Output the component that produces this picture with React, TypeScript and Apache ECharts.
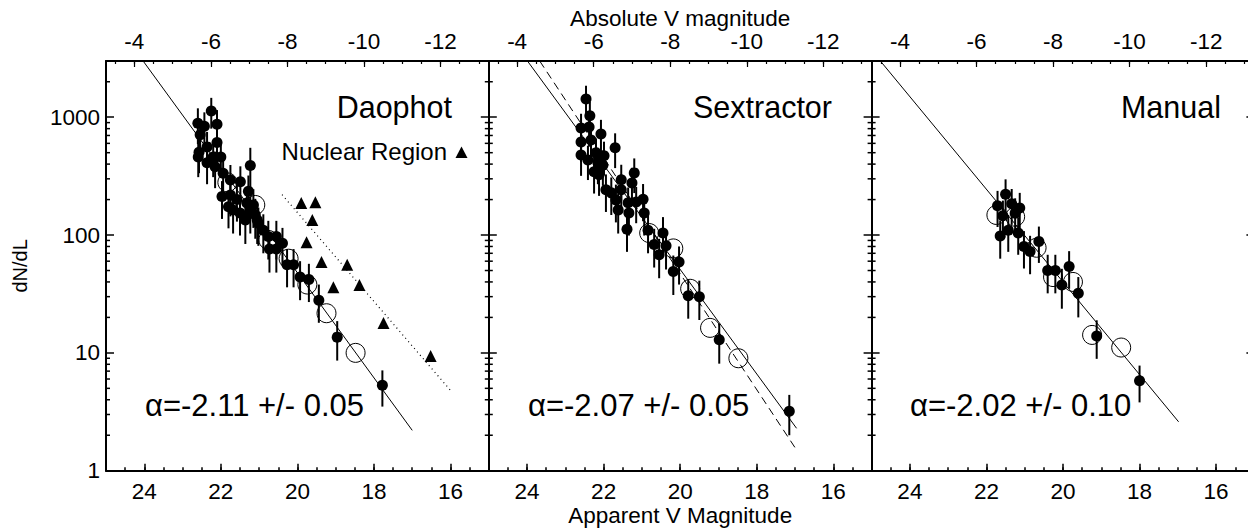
import React, { useEffect, useRef } from 'react';
import * as echarts from 'echarts';

// ---------- axes ----------
const DIST_MODULUS = 28.26;
const APP_MIN = 15;
const APP_MAX = 25;
const COUNT_MIN = 1;
const COUNT_MAX = 3000;

const apparentTicks = [16, 18, 20, 22, 24];
const apparentMinorTicks = [15.5, 16, 16.5, 17, 17.5, 18, 18.5, 19, 19.5, 20, 20.5, 21, 21.5, 22, 22.5, 23, 23.5, 24, 24.5];
const absoluteTicks = [-4, -6, -8, -10, -12];
const absoluteMinorTicks = [-3.5, -4, -4.5, -5, -5.5, -6, -6.5, -7, -7.5, -8, -8.5, -9, -9.5, -10, -10.5, -11, -11.5, -12, -12.5, -13];
const countMinorTicks = [2, 3, 4, 5, 6, 7, 8, 9, 20, 30, 40, 50, 60, 70, 80, 90, 200, 300, 400, 500, 600, 700, 800, 900, 2000, 3000];

const panelTitles = ['Daophot', 'Sextractor', 'Manual'];
const slopeLabels = ['α=-2.11 +/- 0.05', 'α=-2.07 +/- 0.05', 'α=-2.02 +/- 0.10'];

// ---------- data: [apparent mag, dN/dL, sigma] ----------
const daophotFilled = [
  [22.25, 1130, 330], [22.10, 870, 280], [22.60, 890, 300], [22.43, 840, 260], [22.10, 610, 200],
  [22.54, 710, 220], [22.36, 560, 190], [22.59, 460, 150], [22.57, 505, 170], [22.20, 460, 150],
  [22.00, 460, 150], [22.36, 410, 140], [22.15, 380, 130], [21.23, 390, 160], [21.94, 335, 110],
  [21.75, 293, 100], [21.49, 283, 100], [21.28, 235, 85], [21.97, 212, 75], [21.75, 219, 75],
  [21.58, 200, 70], [21.32, 187, 65], [21.15, 180, 65], [21.80, 174, 60], [21.68, 163, 60],
  [21.50, 154, 55], [21.23, 158, 55], [21.10, 148, 55], [21.36, 134, 50], [21.05, 134, 50],
  [21.02, 126, 45], [20.89, 110, 40], [20.76, 97, 35], [20.55, 97, 35], [20.39, 85, 30],
  [20.73, 76, 28], [20.55, 76, 28], [20.27, 56, 20], [20.10, 56, 20], [19.93, 44, 16],
  [19.70, 42, 15], [19.44, 28, 10], [18.96, 13.6, 5], [17.78, 5.3, 1.8],
];
const daophotOpen = [[21.83, 280], [21.10, 180], [20.76, 91], [20.23, 63], [19.74, 38], [19.24, 21.7], [18.48, 10]];
const nuclearTriangles = [
  [19.90, 187], [19.53, 190], [19.61, 134], [19.76, 87], [19.37, 59],
  [18.70, 56], [19.06, 36], [18.38, 37.6], [17.75, 17.9], [16.52, 9.4],
];
const daophotFit = [[24.03, 3000], [17.0, 2.2]];
const nuclearFit = [[20.4, 220], [16.0, 4.8]];

const sextractorFilled = [
  [22.46, 1430, 420], [22.36, 1030, 320], [22.59, 810, 260], [22.38, 825, 260], [22.07, 720, 230],
  [22.59, 617, 200], [22.33, 640, 200], [21.70, 550, 180], [22.59, 478, 160], [22.20, 500, 160],
  [21.99, 470, 150], [22.41, 433, 140], [22.15, 410, 140], [22.02, 392, 130], [21.20, 337, 110],
  [22.25, 345, 120], [22.12, 325, 110], [21.54, 295, 100], [21.26, 277, 95], [21.94, 242, 85],
  [21.80, 228, 80], [21.54, 242, 85], [20.97, 201, 70], [21.68, 198, 70], [21.36, 188, 65],
  [21.15, 191, 65], [21.62, 163, 60], [21.34, 154, 55], [20.94, 154, 55], [21.39, 112, 40],
  [20.84, 110, 40], [20.45, 104, 38], [20.68, 83, 30], [20.37, 81, 30], [20.55, 68, 25],
  [20.03, 59, 21], [20.18, 49, 18], [19.79, 30.5, 11], [19.50, 30, 11], [18.98, 12.9, 4.8],
  [17.15, 3.2, 1.2],
];
const sextractorOpen = [[20.81, 104], [20.18, 77], [19.74, 35], [19.22, 16.3], [18.48, 9.0]];
const sextractorFit = [[23.99, 3000], [16.96, 2.29]];
const sextractorFitAlt = [[23.67, 3000], [16.96, 1.5]];

const manualFilled = [
  [21.50, 222, 75], [21.71, 177, 60], [21.34, 184, 62], [21.13, 170, 58], [21.57, 146, 50],
  [21.25, 153, 52], [21.64, 98, 35], [21.43, 110, 38], [21.17, 104, 36], [21.02, 80, 28],
  [20.86, 72.5, 26], [20.63, 88, 30], [20.40, 50, 18], [20.20, 50, 18], [19.84, 54, 19],
  [20.03, 37.7, 14], [19.60, 32, 12], [19.12, 13.9, 5], [18.00, 5.8, 2],
];
const manualOpen = [[21.74, 148], [21.25, 143], [20.69, 78], [20.26, 44], [19.74, 40], [19.24, 14.2], [18.48, 11.1]];
const manualFit = [[24.77, 3000], [16.98, 2.6]];

// ---------- layout ----------
const FONT = '"Liberation Sans", Arial, Helvetica, sans-serif';
const gridLefts = [106, 488.8, 871.6];
const GRID_W = 382.8;
const GRID_TOP = 61;
const GRID_H = 409.7;

const panels = [
  { filled: daophotFilled, open: daophotOpen, fits: [{ d: daophotFit, t: 'solid' }, { d: nuclearFit, t: 'dotted' }], tri: nuclearTriangles },
  { filled: sextractorFilled, open: sextractorOpen, fits: [{ d: sextractorFit, t: 'solid' }, { d: sextractorFitAlt, t: 'dashed' }], tri: [] },
  { filled: manualFilled, open: manualOpen, fits: [{ d: manualFit, t: 'solid' }], tri: [] },
];

function buildOption() {
  const grid: any[] = [];
  const xAxis: any[] = [];
  const yAxis: any[] = [];
  const series: any[] = [];
  const labelStyle = { color: '#000', fontSize: 22.5, fontFamily: FONT };
  const nameStyle = { color: '#000', fontSize: 22.5, fontFamily: FONT };

  panels.forEach((p, g) => {
    grid.push({ left: gridLefts[g], top: GRID_TOP, width: GRID_W, height: GRID_H, containLabel: false, outerBoundsMode: 'none' });
    // bottom major
    xAxis.push({
      gridIndex: g, type: 'value', position: 'bottom', min: APP_MIN, max: APP_MAX, inverse: true,
      axisLine: { show: true, onZero: false, lineStyle: { color: '#000', width: 2 } },
      axisTick: { show: true, inside: true, length: 7, lineStyle: { color: '#000', width: 1.5 }, customValues: apparentTicks },
      axisLabel: { show: true, customValues: apparentTicks, margin: 9, ...labelStyle },
      splitLine: { show: false },
      name: g === 1 ? 'Apparent V Magnitude' : '', nameLocation: 'middle', nameGap: 33, nameMoveOverlap: false, nameTextStyle: nameStyle,
    });
    // bottom minor
    xAxis.push({
      gridIndex: g, type: 'value', position: 'bottom', min: APP_MIN, max: APP_MAX, inverse: true,
      axisLine: { show: false, onZero: false },
      axisTick: { show: true, inside: true, length: 3.5, lineStyle: { color: '#000', width: 1.5 }, customValues: apparentMinorTicks },
      axisLabel: { show: false }, splitLine: { show: false },
    });
    // top major (absolute magnitude)
    xAxis.push({
      gridIndex: g, type: 'value', position: 'top', min: APP_MIN - DIST_MODULUS, max: APP_MAX - DIST_MODULUS, inverse: true,
      axisLine: { show: true, onZero: false, lineStyle: { color: '#000', width: 2 } },
      axisTick: { show: true, inside: true, length: 6, lineStyle: { color: '#000', width: 1.2 }, customValues: absoluteTicks },
      axisLabel: { show: true, customValues: absoluteTicks, margin: 8, ...labelStyle },
      splitLine: { show: false },
      name: g === 1 ? 'Absolute V magnitude' : '', nameLocation: 'middle', nameGap: 31, nameMoveOverlap: false, nameTextStyle: nameStyle,
    });
    // top minor
    xAxis.push({
      gridIndex: g, type: 'value', position: 'top', min: APP_MIN - DIST_MODULUS, max: APP_MAX - DIST_MODULUS, inverse: true,
      axisLine: { show: false, onZero: false },
      axisTick: { show: true, inside: true, length: 3, lineStyle: { color: '#000', width: 1.2 }, customValues: absoluteMinorTicks },
      axisLabel: { show: false }, splitLine: { show: false },
    });
    // left log axis
    yAxis.push({
      gridIndex: g, type: 'log', logBase: 10, min: COUNT_MIN, max: COUNT_MAX, position: 'left',
      axisLine: { show: true, onZero: false, lineStyle: { color: '#000', width: 2 } },
      axisTick: { show: true, inside: true, length: 8, lineStyle: { color: '#000', width: 1.5 } },
      axisLabel: { show: g === 0, margin: 6, showMaxLabel: false, formatter: (v: number) => String(Math.round(v)), ...labelStyle },
      splitLine: { show: false },
      name: g === 0 ? 'dN/dL' : '', nameLocation: 'middle', nameGap: 76, nameMoveOverlap: false, nameRotate: 90, nameTextStyle: { ...nameStyle, fontSize: 20 },
    });
    // right log axis
    yAxis.push({
      gridIndex: g, type: 'log', logBase: 10, min: COUNT_MIN, max: COUNT_MAX, position: 'right',
      axisLine: { show: true, onZero: false, lineStyle: { color: '#000', width: 2 } },
      axisTick: { show: true, inside: true, length: 8, lineStyle: { color: '#000', width: 1.5 } },
      axisLabel: { show: false }, splitLine: { show: false },
    });

    const xi = 4 * g;
    const yi = 2 * g;

    // log minor ticks on both sides
    series.push({
      type: 'custom', xAxisIndex: xi, yAxisIndex: yi, silent: true, z: 10, clip: false,
      data: countMinorTicks.map((v) => [APP_MAX, v]),
      encode: { x: 0, y: 1 },
      renderItem: (params: any, api: any) => {
        const v = api.value(1);
        const l = api.coord([APP_MAX, v]);
        const r = api.coord([APP_MIN, v]);
        const st = { stroke: '#000', lineWidth: 1.5 };
        return {
          type: 'group',
          children: [
            { type: 'line', shape: { x1: l[0], y1: l[1], x2: l[0] + 4, y2: l[1] }, style: st },
            { type: 'line', shape: { x1: r[0] - 4, y1: r[1], x2: r[0], y2: r[1] }, style: st },
          ],
        };
      },
    });

    p.fits.forEach((f) => {
      series.push({
        type: 'line', xAxisIndex: xi, yAxisIndex: yi, data: f.d, symbol: 'none', silent: true, z: 1,
        lineStyle: {
          color: '#000', width: f.t === 'dotted' ? 1.2 : 1, opacity: 1,
          type: f.t === 'dotted' ? [1, 3.5] : f.t === 'dashed' ? [8, 5] : 'solid',
        },
      });
    });

    // error bars
    series.push({
      type: 'custom', xAxisIndex: xi, yAxisIndex: yi, silent: true, z: 2,
      data: p.filled.map((d) => [d[0], d[1] - d[2], d[1] + d[2]]),
      encode: { x: 0, y: [1, 2] },
      renderItem: (params: any, api: any) => {
        const lo = api.coord([api.value(0), api.value(1)]);
        const hi = api.coord([api.value(0), api.value(2)]);
        return { type: 'line', shape: { x1: lo[0], y1: lo[1], x2: hi[0], y2: hi[1] }, style: { stroke: '#000', lineWidth: 2 } };
      },
    });

    series.push({
      type: 'scatter', xAxisIndex: xi, yAxisIndex: yi, silent: true, z: 3,
      data: p.open, symbol: 'circle', symbolSize: 19,
      itemStyle: { color: 'rgba(0,0,0,0)', borderColor: '#000', borderWidth: 1, opacity: 1 },
    });
    series.push({
      type: 'scatter', xAxisIndex: xi, yAxisIndex: yi, silent: true, z: 4,
      data: p.filled.map((d) => [d[0], d[1]]), symbol: 'circle', symbolSize: 11,
      itemStyle: { color: '#000', opacity: 1 },
    });
    if (p.tri.length) {
      series.push({
        type: 'scatter', xAxisIndex: xi, yAxisIndex: yi, silent: true, z: 4,
        data: p.tri, symbol: 'triangle', symbolSize: 12,
        itemStyle: { color: '#000', opacity: 1 },
      });
    }
  });

  const titleRight = [452, 832, 1221];
  const slopeLeft = [145, 528, 910];
  const graphic: any[] = [];
  panelTitles.forEach((t, i) => {
    graphic.push({
      type: 'text', x: titleRight[i], y: 107, z: 20,
      style: { text: t, fill: '#000', fontSize: 30.5, fontFamily: FONT, textAlign: 'right', align: 'right', textVerticalAlign: 'middle', verticalAlign: 'middle' },
    });
    graphic.push({
      type: 'text', x: slopeLeft[i], y: 405, z: 20,
      style: { text: slopeLabels[i], fill: '#000', fontSize: 31, fontFamily: FONT, textAlign: 'left', align: 'left', textVerticalAlign: 'middle', verticalAlign: 'middle' },
    });
  });
  graphic.push({
    type: 'text', x: 447, y: 151, z: 20,
    style: { text: 'Nuclear Region', fill: '#000', fontSize: 24, fontFamily: FONT, textAlign: 'right', align: 'right', textVerticalAlign: 'middle', verticalAlign: 'middle' },
  });
  graphic.push({
    type: 'polygon', z: 20,
    shape: { points: [[455.5, 158], [467.5, 158], [461.5, 146.5]] },
    style: { fill: '#000' },
  });

  return { animation: false, backgroundColor: '#fff', grid, xAxis, yAxis, series, graphic };
}

export default function App() {
  const ref = useRef<HTMLDivElement>(null);
  useEffect(() => {
    if (!ref.current) return;
    const chart = echarts.init(ref.current, null, { renderer: 'svg' });
    chart.setOption(buildOption());
    return () => chart.dispose();
  }, []);
  return <div ref={ref} style={{ position: 'fixed', left: 0, top: 0, width: 1248, height: 529, background: '#fff' }} />;
}
